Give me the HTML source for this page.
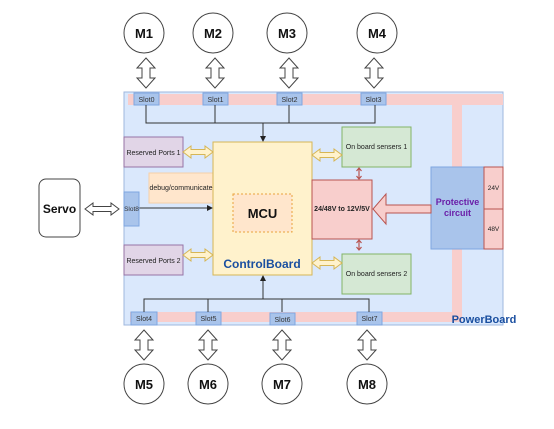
<!DOCTYPE html>
<html><head><style>body{margin:0;background:#fff}svg{display:block}text{font-family:"Liberation Sans",sans-serif}</style></head>
<body>
<svg width="554" height="429" viewBox="0 0 554 429" xmlns="http://www.w3.org/2000/svg">
<defs>
<marker id="ah" markerWidth="6" markerHeight="6" refX="5" refY="3" orient="auto"><path d="M0,0 L6,3 L0,6 z" fill="#222"/></marker>
<g id="va"><path d="M0,-15 L9,-5 L4,-5 L4,5 L9,5 L0,15 L-9,5 L-4,5 L-4,-5 L-9,-5 Z" fill="#fff" stroke="#444" stroke-width="1"/></g>
<g id="ha"><path d="M-15,0 L-7,-6 L-7,-2.5 L7,-2.5 L7,-6 L15,0 L7,6 L7,2.5 L-7,2.5 L-7,6 Z" fill="#fff2cc" stroke="#d6b656" stroke-width="1"/></g>
</defs>
<!-- PowerBoard -->
<rect x="124" y="92" width="379" height="233" fill="#dae8fc" stroke="#9fb7de" stroke-width="1"/>
<!-- pink bands -->
<rect x="128" y="94" width="375" height="11" fill="#f8cecc"/>
<rect x="452" y="94" width="10" height="226" fill="#f8cecc"/>
<rect x="130" y="312" width="332" height="10" fill="#f8cecc"/>
<!-- top slots -->
<g font-size="7" fill="#333" text-anchor="middle">
<rect x="134" y="93" width="25" height="12" fill="#a9c4eb" stroke="#7ea6e0"/><text x="146.5" y="102">Slot0</text>
<rect x="203" y="93" width="25" height="12" fill="#a9c4eb" stroke="#7ea6e0"/><text x="215.5" y="102">Slot1</text>
<rect x="277" y="93" width="25" height="12" fill="#a9c4eb" stroke="#7ea6e0"/><text x="289.5" y="102">Slot2</text>
<rect x="361" y="93" width="25" height="12" fill="#a9c4eb" stroke="#7ea6e0"/><text x="373.5" y="102">Slot3</text>
<rect x="131" y="312" width="26" height="13" fill="#a9c4eb" stroke="#7ea6e0"/><text x="144" y="321">Slot4</text>
<rect x="196" y="312" width="25" height="13" fill="#a9c4eb" stroke="#7ea6e0"/><text x="208.5" y="321">Slot5</text>
<rect x="270" y="313" width="25" height="12" fill="#a9c4eb" stroke="#7ea6e0"/><text x="282.5" y="322">Slot6</text>
<rect x="357" y="312" width="25" height="13" fill="#a9c4eb" stroke="#7ea6e0"/><text x="369.5" y="321">Slot7</text>
</g>
<!-- buses -->
<g stroke="#333" stroke-width="1" fill="none">
<path d="M146,105 V123 H375 V105 M215,105 V123 M289,105 V123"/>
<path d="M263,123 V141" marker-end="url(#ah)"/>
<path d="M144,312 V299 H369 V312 M208,312 V299 M282,312 V299"/>
<path d="M263,299 V276" marker-end="url(#ah)"/>
<path d="M139,208 H212" marker-end="url(#ah)"/>
</g>
<!-- Reserved ports -->
<rect x="124" y="137" width="59" height="30" fill="#e1d5e7" stroke="#9673a6"/>
<text x="153.5" y="155" font-size="7" text-anchor="middle" fill="#222">Reserved Ports 1</text>
<rect x="124" y="245" width="59" height="30" fill="#e1d5e7" stroke="#9673a6"/>
<text x="153.5" y="263" font-size="7" text-anchor="middle" fill="#222">Reserved Ports 2</text>
<rect x="149" y="173" width="64" height="30" fill="#ffe6cc" stroke="#f5d0a9"/>
<text x="181" y="190" font-size="7" text-anchor="middle" fill="#222">debug/communicate</text>
<!-- Slot8 -->
<rect x="124" y="192" width="15" height="34" fill="#a9c4eb" stroke="#7ea6e0"/>
<text x="131.5" y="211" font-size="6.5" text-anchor="middle" fill="#333">Slot8</text>
<!-- ControlBoard -->
<rect x="213" y="142" width="99" height="133" fill="#fff2cc" stroke="#d6b656"/>
<rect x="233" y="194" width="59" height="38" fill="#ffe6cc" stroke="#e8a33d" stroke-dasharray="2,2"/>
<text x="262.5" y="218" font-size="13" font-weight="bold" text-anchor="middle" fill="#111">MCU</text>
<text x="262" y="268" font-size="12" font-weight="bold" text-anchor="middle" fill="#1a4fa0">ControlBoard</text>
<!-- sensors -->
<rect x="342" y="127" width="69" height="40" fill="#d5e8d4" stroke="#82b366"/>
<text x="376.5" y="149" font-size="7" text-anchor="middle" fill="#222">On board sensers 1</text>
<rect x="342" y="254" width="69" height="40" fill="#d5e8d4" stroke="#82b366"/>
<text x="376.5" y="276" font-size="7" text-anchor="middle" fill="#222">On board sensers 2</text>
<!-- converter -->
<rect x="312" y="180" width="60" height="59" fill="#f8cecc" stroke="#b85450"/>
<text x="342" y="211" font-size="7" font-weight="bold" text-anchor="middle" fill="#222">24/48V to 12V/5V</text>
<g stroke="#b85450" stroke-width="1.2" fill="none">
<path d="M359,168 V179 M356.5,171 L359,168 L361.5,171 M356.5,176 L359,179 L361.5,176"/>
<path d="M359,240 V250 M356.5,243 L359,240 L361.5,243 M356.5,247 L359,250 L361.5,247"/>
</g>
<!-- protective -->
<rect x="431" y="167" width="53" height="82" fill="#a9c4eb" stroke="#7ea6e0"/>
<text x="457.5" y="205" font-size="9" font-weight="bold" text-anchor="middle" fill="#6a1fa8">Protective</text>
<text x="457.5" y="216" font-size="9" font-weight="bold" text-anchor="middle" fill="#6a1fa8">circuit</text>
<rect x="484" y="167" width="19" height="42" fill="#f8cecc" stroke="#b85450"/>
<rect x="484" y="209" width="19" height="40" fill="#f8cecc" stroke="#b85450"/>
<text x="493.5" y="190" font-size="6.5" text-anchor="middle" fill="#222">24V</text>
<text x="493.5" y="231" font-size="6.5" text-anchor="middle" fill="#222">48V</text>
<path d="M431,205 L386,205 L386,194 L373,209 L386,224 L386,213 L431,213 Z" fill="#f8cecc" stroke="#b85450"/>
<text x="484" y="323" font-size="11" font-weight="bold" text-anchor="middle" fill="#1a4fa0">PowerBoard</text>
<!-- yellow double arrows -->
<use href="#ha" transform="translate(198,152)"/>
<use href="#ha" transform="translate(198,255)"/>
<use href="#ha" transform="translate(327,155)"/>
<use href="#ha" transform="translate(327,263)"/>
<!-- servo -->
<rect x="39" y="179" width="41" height="58" rx="7" fill="#fff" stroke="#444"/>
<text x="59.5" y="213" font-size="12" font-weight="bold" text-anchor="middle" fill="#111">Servo</text>
<path d="M85,209 L93,203 L93,206.5 L111,206.5 L111,203 L119,209 L111,215 L111,211.5 L93,211.5 L93,215 Z" fill="#fff" stroke="#444"/>
<!-- motors -->
<g fill="#fff" stroke="#444">
<circle cx="144" cy="33" r="20"/><circle cx="213" cy="33" r="20"/><circle cx="287" cy="33" r="20"/><circle cx="377" cy="33" r="20"/>
<circle cx="144" cy="384" r="20"/><circle cx="208" cy="384" r="20"/><circle cx="282" cy="384" r="20"/><circle cx="367" cy="384" r="20"/>
</g>
<g font-size="13" font-weight="bold" text-anchor="middle" fill="#111">
<text x="144" y="38">M1</text><text x="213" y="38">M2</text><text x="287" y="38">M3</text><text x="377" y="38">M4</text>
<text x="144" y="389">M5</text><text x="208" y="389">M6</text><text x="282" y="389">M7</text><text x="367" y="389">M8</text>
</g>
<use href="#va" transform="translate(146,73)"/><use href="#va" transform="translate(215,73)"/><use href="#va" transform="translate(289,73)"/><use href="#va" transform="translate(374,73)"/>
<use href="#va" transform="translate(144,345)"/><use href="#va" transform="translate(208,345)"/><use href="#va" transform="translate(282,345)"/><use href="#va" transform="translate(367,345)"/>
</svg>
</body></html>
